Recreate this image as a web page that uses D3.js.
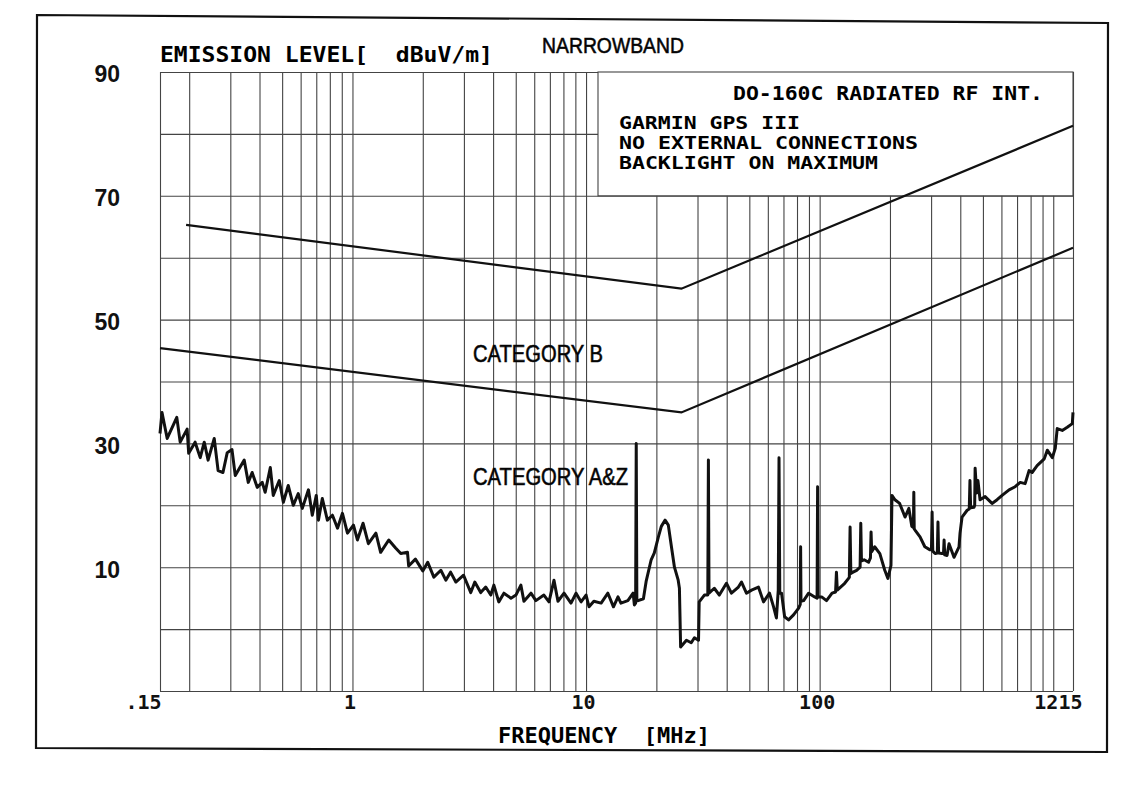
<!DOCTYPE html>
<html>
<head>
<meta charset="utf-8">
<script src="https://cdn.jsdelivr.net/npm/d3@7"></script>
<style>
body { margin: 0; background: #fff; }
svg { display: block; }
</style>
</head>
<body>
<svg id="chart" width="1143" height="787"></svg>
<script>
// limit lines, frequency in MHz, level in dBuV/m
var catBFreq = [0.194, 25.6, 1215];
var catBLevel = [65.3, 55, 81.3];
var catAZFreq = [0.15, 25.6, 1215];
var catAZLevel = [45.4, 35, 61.6];

var yTicks = [10, 30, 50, 70, 90];
var xTicks = [0.15, 1, 10, 100, 1215];
var xTickLabels = [".15", "1", "10", "100", "1215"];

var boxTitle = "DO-160C RADIATED RF INT.";
var boxLines = ["GARMIN GPS III", "NO EXTERNAL CONNECTIONS", "BACKLIGHT ON MAXIMUM"];

// measured emission trace [MHz, dBuV/m]
var trace = [
  [0.150,31.6],[0.153,35.0],[0.161,30.8],[0.177,34.2],[0.183,30.2],[0.196,32.3],[0.199,28.4],
  [0.212,30.2],[0.223,27.7],[0.232,30.2],[0.241,27.3],[0.256,30.8],[0.266,25.6],[0.279,25.3],
  [0.291,28.5],[0.305,29.0],[0.315,24.8],[0.344,27.3],[0.358,23.7],[0.372,25.3],[0.391,22.9],
  [0.411,23.7],[0.423,22.1],[0.445,26.1],[0.458,21.6],[0.486,24.0],[0.506,20.5],[0.531,23.2],
  [0.558,20.0],[0.586,21.9],[0.610,19.5],[0.648,22.5],[0.673,18.4],[0.700,21.6],[0.715,17.6],
  [0.743,21.1],[0.781,17.6],[0.821,18.4],[0.863,16.3],[0.906,18.7],[0.952,15.5],[1.01,16.8],
  [1.05,14.4],[1.11,17.1],[1.17,13.8],[1.26,15.5],[1.32,12.4],[1.43,14.4],[1.53,13.1],
  [1.61,12.2],[1.72,12.4],[1.74,10.2],[1.86,11.3],[2.00,9.4],[2.10,10.8],[2.23,8.4],
  [2.39,9.5],[2.51,7.9],[2.63,9.2],[2.77,7.6],[2.99,8.7],[3.21,5.9],[3.34,7.6],
  [3.54,5.9],[3.72,6.8],[3.91,5.5],[4.03,7.1],[4.23,4.4],[4.45,5.8],[4.77,5.0],[5.01,5.5],
  [5.26,7.1],[5.42,4.5],[5.81,5.8],[6.10,4.6],[6.60,5.5],[6.94,4.4],[7.29,7.9],[7.58,4.5],
  [8.05,5.8],[8.62,4.2],[9.06,5.8],[9.52,4.4],[10.0,5.5],[10.3,3.6],[10.8,4.5],[11.6,4.2],
  [12.4,5.8],[13.1,3.6],[13.7,5.2],[14.1,4.2],[15.1,4.6],[15.9,5.8],[16.1,3.9],
  [16.3,4.2],[16.4,30.0],[16.5,4.6],[16.7,4.6],[17.6,4.9],[18.1,7.8],[19.0,11.2],[19.6,12.3],
  [20.4,14.9],[21.0,16.6],[21.8,17.6],[22.5,16.8],[23.2,13.3],[23.9,10.0],[24.8,7.9],
  [25.1,6.6],[25.4,-2.9],[26.9,-1.8],[28.2,-2.2],[29.1,-1.4],[30.3,-1.8],[30.5,4.4],
  [32.1,5.5],[33.2,5.5],[33.4,27.3],[33.6,5.8],[35.4,6.6],[37.2,5.5],[39.9,7.4],[41.9,5.8],
  [44.9,6.8],[46.3,7.6],[48.6,5.8],[51.1,6.3],[54.7,6.8],[57.5,4.4],[61.0,5.8],[63.5,3.6],
  [65.3,1.8],[66.5,6.3],[67.0,27.7],[67.5,5.8],[68.7,5.8],[70.8,2.0],[73.6,1.5],[77.3,2.3],
  [81.3,3.4],[82.6,4.0],[82.9,13.3],[83.2,4.5],[85.4,4.6],[89.7,5.8],[95.2,5.2],
  [97.5,5.0],[98.0,23.0],[98.5,5.2],[102,5.2],[107,4.6],[113,5.8],[117,6.0],[118,9.2],
  [119,6.3],[128,7.4],[133,8.2],[134,8.4],[135,16.5],[136,9.0],[139,9.2],[144,9.5],
  [149,10.0],[150,17.1],[151,11.0],[155,11.2],[162,10.8],[165,11.5],[166,15.7],[167,12.5],
  [172,13.3],[181,12.2],[190,9.5],[196,8.2],[202,10.3],[204,21.6],[210,20.9],[220,20.3],
  [232,18.1],[241,19.5],[248,16.6],[252,16.4],[253,22.1],[254,16.2],[256,16.0],[269,14.9],
  [282,13.3],[297,12.8],[301,12.8],[303,18.9],[305,12.6],[312,12.2],[319,12.3],[321,17.3],
  [323,12.3],[334,12.2],[339,12.2],[341,14.4],[343,12.0],[351,11.9],[358,13.8],[376,11.6],
  [395,13.3],[399,15.5],[407,18.1],[428,19.2],[437,19.4],[440,24.0],[443,19.6],[458,19.7],
  [461,20.0],[463,26.0],[470,22.0],[476,24.0],[486,20.9],[511,21.4],[547,20.3],[575,20.9],
  [604,21.6],[647,22.5],[687,23.0],[722,23.7],[758,23.5],[788,25.6],[812,25.3],[853,26.4],
  [915,27.5],[943,28.9],[991,27.7],[1020,29.2],[1040,32.4],[1093,32.1],[1148,32.6],
  [1207,33.2],[1215,35.0]
];

var svg = d3.select("#chart");
var W = 1143, H = 787;

svg.append("rect").attr("width", W).attr("height", H).attr("fill", "#fff");

// outer frame (scanned page is slightly skewed)
svg.append("path")
    .attr("d", "M37,15 L1108,23 L1107,752 L36,748 Z")
    .attr("fill", "none")
    .attr("stroke", "#111")
    .attr("stroke-width", 2.2);

var x = d3.scaleLog().domain([0.15, 1215]).range([160, 1073]);
var y = d3.scaleLinear().domain([-10, 90]).range([691, 72]);

var plotH = y(-10) - y(90);
var plotW = x(1215) - x(0.15);

// grid
var xGrid = [0.15].concat(x.ticks()).concat([1215]);
var yGrid = d3.range(-10, 91, 10);

svg.append("g")
    .attr("transform", "translate(0," + y(-10) + ")")
    .call(d3.axisBottom(x).tickValues(xGrid).tickSize(-plotH).tickFormat(""))
    .call(g => g.select(".domain").remove())
    .selectAll("line")
    .attr("stroke", "#444")
    .attr("stroke-width", 1.1);

svg.append("g")
    .attr("transform", "translate(" + x(0.15) + ",0)")
    .call(d3.axisLeft(y).tickValues(yGrid).tickSize(-plotW).tickFormat(""))
    .call(g => g.select(".domain").remove())
    .selectAll("line")
    .attr("stroke", "#444")
    .attr("stroke-width", 1.1);

// info box in top right corner
svg.append("rect")
    .attr("x", 598)
    .attr("y", y(90))
    .attr("width", x(1215) - 598)
    .attr("height", y(70) - y(90))
    .attr("fill", "#fff")
    .attr("stroke", "#444")
    .attr("stroke-width", 1.1);

var mono = "'DejaVu Sans Mono', monospace";
var sans = "'Liberation Sans', Arial, sans-serif";

svg.append("text")
    .attr("x", 733).attr("y", 100)
    .attr("font-family", mono).attr("font-weight", "bold").attr("font-size", 20)
    .attr("textLength", 310).attr("lengthAdjust", "spacingAndGlyphs")
    .text(boxTitle);

var lineWidths = [181, 299, 259];
svg.selectAll(".boxline")
    .data(boxLines)
    .enter()
    .append("text")
    .attr("class", "boxline")
    .attr("x", 619)
    .attr("y", (d, i) => 129 + i * 20)
    .attr("font-family", mono).attr("font-weight", "bold").attr("font-size", 17)
    .attr("textLength", (d, i) => lineWidths[i]).attr("lengthAdjust", "spacingAndGlyphs")
    .text(d => d);

// limit lines
var line = d3.line().x(d => x(d[0])).y(d => y(d[1]));

svg.append("path")
    .datum(catBFreq.map((f, i) => [f, catBLevel[i]]))
    .attr("d", line)
    .attr("fill", "none")
    .attr("stroke", "#111")
    .attr("stroke-width", 2.2);

svg.append("path")
    .datum(catAZFreq.map((f, i) => [f, catAZLevel[i]]))
    .attr("d", line)
    .attr("fill", "none")
    .attr("stroke", "#111")
    .attr("stroke-width", 2.2);

// measured trace
svg.append("path")
    .datum(trace)
    .attr("d", line)
    .attr("fill", "none")
    .attr("stroke", "#111")
    .attr("stroke-width", 3)
    .attr("stroke-linejoin", "round");

// y axis labels
var yAxis = svg.append("g")
    .attr("transform", "translate(" + x(0.15) + ",0)")
    .call(d3.axisLeft(y).tickValues(yTicks).tickSize(0).tickPadding(40));
yAxis.select(".domain").remove();
yAxis.selectAll("text")
    .attr("font-family", sans)
    .attr("font-weight", "bold")
    .attr("font-size", 23)
    .attr("dy", "0.43em")
    .attr("fill", "#111");

// x axis labels
var xAxis = svg.append("g")
    .attr("transform", "translate(0," + y(-10) + ")")
    .call(d3.axisBottom(x).tickValues(xTicks).tickSize(0)
        .tickFormat((d, i) => xTickLabels[i]));
xAxis.select(".domain").remove();
xAxis.selectAll("text")
    .attr("font-family", mono)
    .attr("font-weight", "bold")
    .attr("font-size", 20)
    .attr("y", 18)
    .attr("dy", 0)
    .attr("fill", "#111")
    .attr("text-anchor", (d, i) => i == 0 || i == xTicks.length - 1 ? "end" : "middle")
    .attr("dx", (d, i) => i == xTicks.length - 1 ? 9 : (i == 0 ? 1 : -3));

// titles
svg.append("text")
    .attr("x", 160).attr("y", 62)
    .attr("font-family", mono).attr("font-weight", "bold").attr("font-size", 21)
    .attr("textLength", 333).attr("lengthAdjust", "spacingAndGlyphs")
    .style("white-space", "pre")
    .text("EMISSION LEVEL[  dBuV/m]");

svg.append("text")
    .attr("x", 542).attr("y", 53)
    .attr("font-family", sans).attr("font-size", 22)
    .attr("stroke", "#111").attr("stroke-width", 0.6)
    .attr("textLength", 142).attr("lengthAdjust", "spacingAndGlyphs")
    .text("NARROWBAND");

svg.append("text")
    .attr("x", 498).attr("y", 743)
    .attr("font-family", mono).attr("font-weight", "bold").attr("font-size", 22)
    .attr("textLength", 212).attr("lengthAdjust", "spacingAndGlyphs")
    .style("white-space", "pre")
    .text("FREQUENCY  [MHz]");

// category labels
svg.append("text")
    .attr("x", 473).attr("y", 362)
    .attr("font-family", sans).attr("font-size", 23)
    .attr("stroke", "#111").attr("stroke-width", 0.6)
    .attr("textLength", 130).attr("lengthAdjust", "spacingAndGlyphs")
    .text("CATEGORY B");

svg.append("text")
    .attr("x", 473).attr("y", 485)
    .attr("font-family", sans).attr("font-size", 23)
    .attr("stroke", "#111").attr("stroke-width", 0.6)
    .attr("textLength", 155).attr("lengthAdjust", "spacingAndGlyphs")
    .text("CATEGORY A&Z");
</script>
</body>
</html>
